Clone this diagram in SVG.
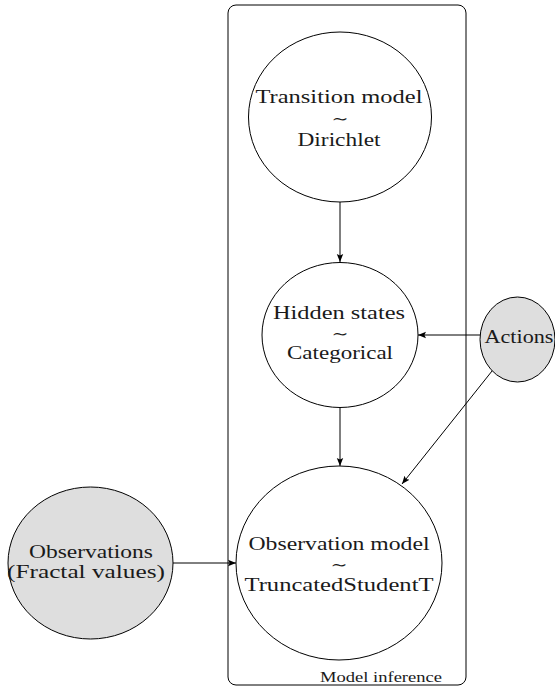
<svg xmlns="http://www.w3.org/2000/svg" width="555" height="687" viewBox="0 0 555 687">
<style>
.node{fill:#ffffff;stroke:#000;stroke-width:1}
.obs{fill:#dedede;stroke:#000;stroke-width:1}
.t{font-size:19px;fill:#1a1a1a;text-anchor:middle}
.tl{font-size:15px;fill:#1a1a1a;text-anchor:middle}
.small{font-size:14px;fill:#1a1a1a;text-anchor:end}
.edge{stroke:#000;stroke-width:1;fill:none;marker-end:url(#arr)}
</style>
<defs>
<marker id="arr" viewBox="0 0 10 10" refX="10" refY="5" markerWidth="8" markerHeight="8" markerUnits="userSpaceOnUse" orient="auto">
<path d="M0,1 L10,5 L0,9 L2,5 Z" fill="#000"/>
</marker>
</defs>
<g font-family="'Liberation Serif', 'Times New Roman', Times, 'DejaVu Serif', serif">
<g id="plate">
<rect x="228" y="5" width="238" height="680" rx="8" ry="8" fill="none" stroke="#000" stroke-width="1"/>
<text class="small" x="442" y="682" textLength="122" lengthAdjust="spacingAndGlyphs">Model inference</text>
</g>
<g id="edges">
<line class="edge" x1="340" y1="202" x2="340" y2="262"/>
<line class="edge" x1="340" y1="407" x2="340" y2="466"/>
<line class="edge" x1="480" y1="335" x2="418" y2="335"/>
<line class="edge" x1="496" y1="366" x2="402" y2="484"/>
<line class="edge" x1="173" y1="563" x2="236" y2="563"/>
</g>
<g id="transition">
<ellipse class="node" cx="340" cy="117" rx="91.5" ry="85"/>
<text class="t" x="339" y="103" textLength="167" lengthAdjust="spacingAndGlyphs">Transition model</text>
<text class="tl" x="340" y="124" textLength="17" lengthAdjust="spacingAndGlyphs">∼</text>
<text class="t" x="339" y="146" textLength="83" lengthAdjust="spacingAndGlyphs">Dirichlet</text>
</g>
<g id="hidden">
<ellipse class="node" cx="340" cy="335" rx="78" ry="72.5"/>
<text class="t" x="339" y="319" textLength="132" lengthAdjust="spacingAndGlyphs">Hidden states</text>
<text class="tl" x="340" y="339" textLength="17" lengthAdjust="spacingAndGlyphs">∼</text>
<text class="t" x="340" y="359" textLength="106" lengthAdjust="spacingAndGlyphs">Categorical</text>
</g>
<g id="observation_model">
<ellipse class="node" cx="339" cy="563" rx="103" ry="97"/>
<text class="t" x="339" y="550" textLength="181" lengthAdjust="spacingAndGlyphs">Observation model</text>
<text class="tl" x="339" y="570" textLength="17" lengthAdjust="spacingAndGlyphs">∼</text>
<text class="t" x="339" y="591" textLength="189" lengthAdjust="spacingAndGlyphs">TruncatedStudentT</text>
</g>
<g id="actions">
<ellipse class="obs" cx="517.5" cy="339.5" rx="37.5" ry="42.5"/>
<text class="t" x="519" y="343" textLength="69" lengthAdjust="spacingAndGlyphs">Actions</text>
</g>
<g id="observations">
<ellipse class="obs" cx="90.5" cy="563" rx="82.5" ry="76"/>
<text class="t" x="91" y="558" textLength="124" lengthAdjust="spacingAndGlyphs">Observations</text>
<text class="t" x="86" y="578" textLength="158" lengthAdjust="spacingAndGlyphs">(Fractal values)</text>
</g>
</g>
</svg>
